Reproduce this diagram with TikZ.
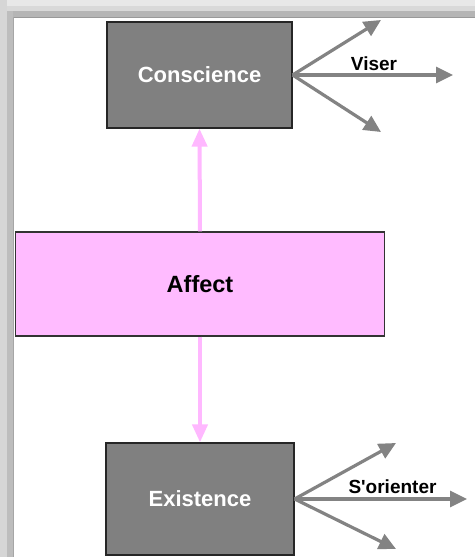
\documentclass[tikz,border=0pt]{standalone}
\usepackage{fontspec}
\setmainfont{Liberation Sans}
\usetikzlibrary{arrows.meta}
\definecolor{boxgray}{HTML}{808080}
\definecolor{pinkfill}{HTML}{FFBBFF}
\definecolor{pinkarrow}{HTML}{FFB8FF}
\definecolor{arrowgray}{HTML}{838383}
\tikzset{
  graybox/.style={draw=black!85, line width=1.2pt, fill=boxgray, text=white, font=\bfseries\fontsize{22}{24}\selectfont},
  pinkbox/.style={draw=black!80, line width=1.2pt, fill=pinkfill, text=black, font=\bfseries\fontsize{23.5}{25}\selectfont},
  grayarrow/.style={draw=arrowgray, line width=3.2pt, -{Triangle[length=17pt,width=16pt]}},
  pinkarr/.style={draw=pinkarrow, line width=4pt, -{Triangle[length=18pt,width=15pt]}},
  lbl/.style={font=\bfseries\fontsize{19}{21}\selectfont, text=black, inner sep=0pt}
}
\begin{document}
\begin{tikzpicture}[x=1pt,y=-1pt]
\useasboundingbox (0,0) rectangle (475,557);
\fill[white] (0,0) rectangle (475,557);
% frame bands
\fill[black!9] (0,0) rectangle (475,6);
\fill[black!15] (0,6) rectangle (475,11);
\fill[black!29] (0,11) rectangle (475,17);
\fill[black!16] (0,0) rectangle (7,557);
\fill[black!26] (7,11) rectangle (13,557);
\draw[black!40, line width=0.8pt] (13,17) -- (475,17);
\draw[black!35, line width=0.8pt] (13,17) -- (13,557);
% boxes
\node[graybox, minimum width=185pt, minimum height=106pt, inner sep=0pt] (cons) at (199.5,75) {Conscience};
\node[pinkbox, minimum width=369pt, minimum height=104pt, inner sep=0pt] (aff) at (200,284) {Affect};
\node[graybox, minimum width=188pt, minimum height=112pt, inner sep=0pt] (exi) at (200,499) {Existence};
% pink arrows
\draw[pinkarr] (aff.north) -- (cons.south);
\draw[pinkarr] (aff.south) -- (exi.north);
% conscience arrows
\coordinate (c1) at (381,20);
\coordinate (c2) at (453,75);
\coordinate (c3) at (381,132);
\draw[grayarrow] (cons.east) -- (c1);
\draw[grayarrow] (cons.east) -- (c2);
\draw[grayarrow] (cons.east) -- (c3);
\node[lbl] (viser) at (374,64) {Viser};
% existence arrows
\coordinate (e1) at (396,443);
\coordinate (e2) at (467,499);
\coordinate (e3) at (396,549);
\draw[grayarrow] (exi.east) -- (e1);
\draw[grayarrow] (exi.east) -- (e2);
\draw[grayarrow] (exi.east) -- (e3);
\node[lbl] (sor) at (392.5,486.5) {S\textquotesingle orienter};
\end{tikzpicture}
\end{document}
